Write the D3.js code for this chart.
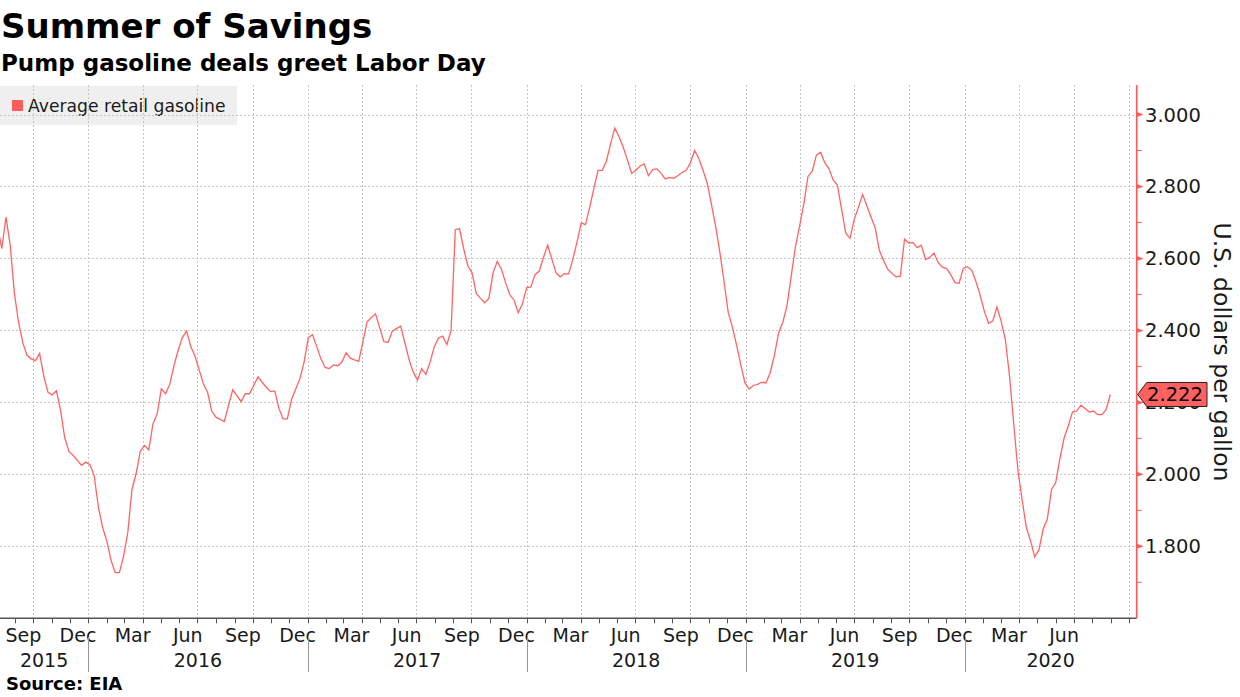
<!DOCTYPE html>
<html>
<head>
<meta charset="utf-8">
<script src="https://cdn.jsdelivr.net/npm/d3@7"></script>
<style>
  body { margin: 0; background: #fff; }
  svg { display: block; }
  text { font-family: "DejaVu Sans", sans-serif; fill: #1a1a1a; }
  .bold { font-weight: bold; fill: #000; }
</style>
</head>
<body>
<script>
// weekly EIA retail gasoline, first week and values
var startWeek = "2015-08-03";
var prices = [
  2.689, 2.627, 2.715, 2.637, 2.503, 2.422, 2.366, 2.331, 2.321, 2.316,
  2.336, 2.273, 2.228, 2.221, 2.232, 2.178, 2.101, 2.063, 2.053, 2.039,
  2.025, 2.034, 2.027, 1.996, 1.910, 1.853, 1.815, 1.762, 1.727, 1.727,
  1.772, 1.838, 1.958, 2.003, 2.065, 2.080, 2.068, 2.140, 2.168, 2.238,
  2.224, 2.250, 2.302, 2.345, 2.380, 2.398, 2.355, 2.329, 2.291, 2.252,
  2.228, 2.176, 2.159, 2.153, 2.147, 2.192, 2.235, 2.219, 2.202, 2.224,
  2.224, 2.247, 2.271, 2.256, 2.242, 2.230, 2.232, 2.183, 2.154, 2.154,
  2.208, 2.237, 2.266, 2.312, 2.380, 2.388, 2.355, 2.321, 2.297, 2.294,
  2.304, 2.302, 2.312, 2.338, 2.323, 2.318, 2.314, 2.369, 2.424, 2.436,
  2.446, 2.407, 2.369, 2.367, 2.398, 2.405, 2.412, 2.365, 2.318, 2.284,
  2.262, 2.294, 2.278, 2.312, 2.355, 2.379, 2.384, 2.361, 2.400, 2.680,
  2.683, 2.627, 2.579, 2.560, 2.503, 2.489, 2.477, 2.489, 2.560, 2.592,
  2.570, 2.532, 2.499, 2.484, 2.449, 2.474, 2.519, 2.521, 2.555, 2.565,
  2.603, 2.637, 2.598, 2.560, 2.549, 2.558, 2.557, 2.598, 2.646, 2.699,
  2.694, 2.742, 2.794, 2.845, 2.845, 2.871, 2.919, 2.962, 2.938, 2.909,
  2.874, 2.836, 2.845, 2.857, 2.863, 2.830, 2.847, 2.849, 2.837, 2.821,
  2.825, 2.823, 2.830, 2.839, 2.845, 2.866, 2.900, 2.878, 2.845, 2.809,
  2.751, 2.689, 2.618, 2.536, 2.450, 2.409, 2.359, 2.304, 2.254, 2.237,
  2.247, 2.250, 2.256, 2.254, 2.283, 2.331, 2.393, 2.422, 2.469, 2.550,
  2.632, 2.690, 2.751, 2.828, 2.842, 2.887, 2.895, 2.866, 2.849, 2.818,
  2.804, 2.737, 2.670, 2.656, 2.708, 2.742, 2.778, 2.747, 2.715, 2.685,
  2.622, 2.594, 2.570, 2.558, 2.549, 2.551, 2.654, 2.643, 2.644, 2.630,
  2.637, 2.597, 2.603, 2.615, 2.589, 2.576, 2.572, 2.555, 2.533, 2.531,
  2.573, 2.577, 2.567, 2.536, 2.498, 2.453, 2.420, 2.426, 2.465, 2.426,
  2.374, 2.273, 2.140, 2.011, 1.929, 1.853, 1.815, 1.771, 1.790, 1.848,
  1.876, 1.958, 1.977, 2.044, 2.101, 2.135, 2.173, 2.176, 2.192, 2.183,
  2.173, 2.176, 2.166, 2.166, 2.180, 2.222
];
var seriesName = "Average retail gasoline";
var lastLabel = "2.222";
var yTicks = [1.8, 2.0, 2.2, 2.4, 2.6, 2.8, 3.0];
var yMinor = [1.7, 1.9, 2.1, 2.3, 2.5, 2.7, 2.9];
var labelMonths = [2, 5, 8, 11]; // Mar Jun Sep Dec
var xDomain = ["2015-08-07", "2020-10-14"];
var yDomain = [1.6, 3.082];

var width = 1240, height = 697;
var plot = {left: 0, right: 1136.7, top: 85, bottom: 618.3};
var lineColor = "#ff6464";

var svg = d3.select("body").append("svg")
  .attr("width", width)
  .attr("height", height);

var parse = d3.timeParse("%Y-%m-%d");
var start = parse(startWeek);
var data = prices.map(function(v, i) {
  return {date: d3.timeWeek.offset(start, i), value: v};
});

var x = d3.scaleTime().domain(xDomain.map(parse)).range([plot.left, plot.right]);
var y = d3.scaleLinear().domain(yDomain).range([plot.bottom, plot.top]);

//titles
svg.append("text").attr("class", "bold").attr("x", 1).attr("y", 38)
  .style("font-size", "34px").text("Summer of Savings");
svg.append("text").attr("class", "bold").attr("x", 1).attr("y", 71)
  .style("font-size", "23px").text("Pump gasoline deals greet Labor Day");

//legend box sits under the grid
svg.append("rect").attr("x", 0).attr("y", 86).attr("width", 237).attr("height", 39)
  .attr("fill", "#efefef");
svg.append("rect").attr("x", 12).attr("y", 100).attr("width", 11).attr("height", 11)
  .attr("fill", "#ff5c5c");
svg.append("text").attr("x", 28).attr("y", 112).style("font-size", "17.2px").text(seriesName);

//grid
var grid = svg.append("g").attr("stroke", "#c4c4c4").attr("stroke-dasharray", "2,2").attr("stroke-width", 1);
grid.selectAll("line.h").data(yTicks).enter().append("line")
  .attr("x1", plot.left).attr("x2", plot.right)
  .attr("y1", function(d) { return Math.round(y(d)) + 0.5; })
  .attr("y2", function(d) { return Math.round(y(d)) + 0.5; });
var quarters = d3.timeMonth.every(3).range(x.domain()[0], x.domain()[1]);
grid.selectAll("line.v").data(quarters).enter().append("line")
  .attr("x1", function(d) { return Math.round(x(d)) + 0.5; })
  .attr("x2", function(d) { return Math.round(x(d)) + 0.5; })
  .attr("y1", plot.top).attr("y2", plot.bottom);

//price line
svg.append("clipPath").attr("id", "clip").append("rect")
  .attr("x", plot.left).attr("y", plot.top)
  .attr("width", plot.right - plot.left).attr("height", plot.bottom - plot.top);

var line = d3.line()
  .x(function(d) { return x(d.date); })
  .y(function(d) { return y(d.value); });

svg.append("path").datum(data)
  .attr("clip-path", "url(#clip)")
  .attr("d", line)
  .attr("fill", "none")
  .attr("stroke", lineColor)
  .attr("stroke-width", 1.3);

//x axis
svg.append("line").attr("x1", plot.left).attr("x2", plot.right)
  .attr("y1", plot.bottom).attr("y2", plot.bottom)
  .attr("stroke", "#555").attr("stroke-width", 1.6);

var months = d3.timeMonth.range(x.domain()[0], x.domain()[1]);
svg.selectAll("line.mtick").data(months).enter().append("line")
  .attr("x1", function(d) { return Math.round(x(d)) + 0.5; })
  .attr("x2", function(d) { return Math.round(x(d)) + 0.5; })
  .attr("y1", plot.bottom).attr("y2", plot.bottom + 5)
  .attr("stroke", "#555").attr("stroke-width", 1);

var fmtMonth = d3.timeFormat("%b");
var midMonth = function(d) { return new Date(d.getFullYear(), d.getMonth(), 15); };
// Sep 2015 begins before the first tick, so take months from the month floor
var labelled = d3.timeMonth.range(d3.timeMonth.floor(x.domain()[0]), x.domain()[1]).filter(function(d) {
  return labelMonths.indexOf(d.getMonth()) >= 0 && x(midMonth(d)) + 20 < plot.right;
});
svg.selectAll("text.month").data(labelled).enter().append("text")
  .attr("x", function(d) { return x(midMonth(d)); })
  .attr("y", 642)
  .attr("text-anchor", "middle")
  .style("font-size", "19px")
  .text(fmtMonth);

var years = d3.timeYear.range(d3.timeYear.floor(x.domain()[0]), x.domain()[1]);
svg.selectAll("text.year").data(years).enter().append("text")
  .attr("x", function(d) {
    var a = Math.max(x(d), plot.left);
    var b = Math.min(x(d3.timeYear.offset(d, 1)), plot.right);
    return (a + b) / 2;
  })
  .attr("y", 667)
  .attr("text-anchor", "middle")
  .style("font-size", "19px")
  .text(d3.timeFormat("%Y"));

svg.selectAll("line.ysep").data(years.filter(function(d) { return x(d) > plot.left; })).enter().append("line")
  .attr("x1", function(d) { return Math.round(x(d)) + 0.5; })
  .attr("x2", function(d) { return Math.round(x(d)) + 0.5; })
  .attr("y1", 637).attr("y2", 672)
  .attr("stroke", "#999").attr("stroke-width", 1);

//y axis on the right
svg.append("line").attr("x1", plot.right).attr("x2", plot.right)
  .attr("y1", plot.top).attr("y2", plot.bottom)
  .attr("stroke", "#ff5a5a").attr("stroke-width", 1.6);

svg.selectAll("path.ytick").data(yTicks).enter().append("path")
  .attr("d", function(d) {
    var yy = y(d);
    return "M" + plot.right + "," + (yy - 2.5) + "L" + (plot.right + 7) + "," + yy + "L" + plot.right + "," + (yy + 2.5) + "Z";
  })
  .attr("fill", "#ff5a5a");

svg.selectAll("line.yminor").data(yMinor).enter().append("line")
  .attr("x1", plot.right).attr("x2", plot.right + 5)
  .attr("y1", function(d) { return y(d); })
  .attr("y2", function(d) { return y(d); })
  .attr("stroke", "#ff5a5a").attr("stroke-width", 1);

svg.selectAll("text.ylab").data(yTicks).enter().append("text")
  .attr("x", 1145)
  .attr("y", function(d) { return y(d); })
  .attr("dy", "0.36em")
  .style("font-size", "19.5px")
  .text(d3.format(".3f"));

svg.append("text")
  .attr("transform", "translate(1214," + 352 + ") rotate(90)")
  .attr("text-anchor", "middle")
  .style("font-size", "23.5px")
  .text("U.S. dollars per gallon");

//last value marker
var lastY = y(prices[prices.length - 1]);
svg.append("path")
  .attr("d", "M" + (plot.right + 1) + "," + lastY +
             "L" + (plot.right + 10) + "," + (lastY - 12) +
             "H" + 1207 + "V" + (lastY + 12) +
             "H" + (plot.right + 10) + "Z")
  .attr("fill", "#ff6161")
  .attr("stroke", "#222")
  .attr("stroke-width", 1);
svg.append("text")
  .attr("x", 1175).attr("y", lastY).attr("dy", "0.36em")
  .attr("text-anchor", "middle")
  .style("font-size", "19.5px")
  .style("fill", "#000")
  .text(lastLabel);

//source
svg.append("text").attr("class", "bold").attr("x", 6).attr("y", 690)
  .style("font-size", "18px").text("Source: EIA");
</script>
</body>
</html>
